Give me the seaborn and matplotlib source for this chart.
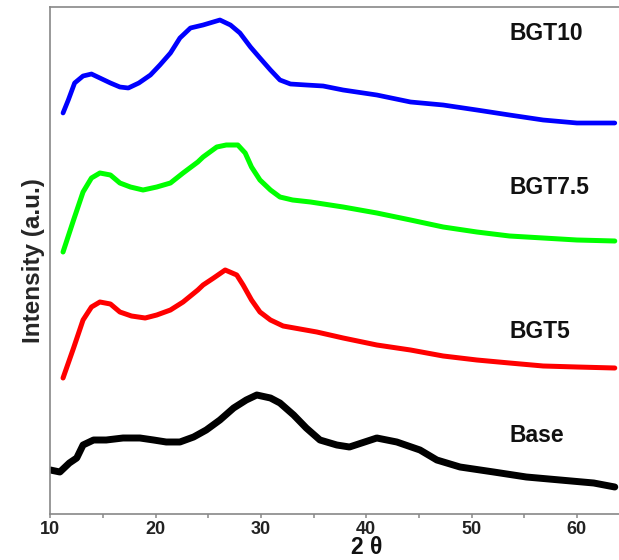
import matplotlib
matplotlib.use("Agg")
import matplotlib.pyplot as plt
import seaborn as sns
import pandas as pd
from matplotlib.ticker import MultipleLocator

sns.set_style("ticks")
plt.rcParams['font.family'] = ['Liberation Sans', 'DejaVu Sans']

# ---- data (2θ in degrees, intensity in arbitrary units incl. vertical offset) ----
bgt10_x = [11.2, 11.7, 12.3, 13.1, 13.9, 14.7, 15.7, 16.6, 17.4, 18.4, 19.5, 20.4, 21.4,
           22.3, 23.3, 24.5, 26.1, 27.1, 28.0, 29.0, 29.9, 30.9, 31.8, 32.8, 34.3, 35.9,
           37.8, 41.0, 44.2, 47.3, 50.5, 53.6, 56.8, 60.0, 63.6]
bgt10_y = [401, 414, 431, 438, 440, 436, 431, 427, 426, 431, 439, 449, 461,
           476, 486, 489, 494, 489, 481, 467, 456, 444, 434, 430, 429, 428,
           424, 419, 412, 409, 404, 399, 394, 391, 391]

bgt75_x = [11.2, 12.2, 13.1, 13.9, 14.7, 15.7, 16.6, 17.6, 18.8, 20.1, 21.4, 22.6, 24.0,
           24.5, 25.8, 26.7, 27.8, 28.5, 29.1, 29.9, 30.9, 31.8, 33.0, 34.7, 37.8, 41.0,
           44.2, 47.3, 50.5, 53.6, 56.8, 60.0, 63.6]
bgt75_y = [262, 294, 322, 336, 341, 339, 331, 327, 324, 327, 331, 341, 352,
           357, 367, 369, 369, 361, 347, 334, 324, 317, 314, 312, 307, 301,
           294, 287, 282, 278, 276, 274, 273]

bgt5_x = [11.2, 12.2, 13.1, 13.9, 14.7, 15.7, 16.6, 17.7, 19.0, 20.1, 21.4, 22.6, 24.0,
          24.5, 25.5, 26.6, 27.7, 28.3, 29.1, 29.9, 30.9, 32.1, 33.7, 35.3, 37.8, 41.0,
          44.2, 47.3, 50.5, 53.6, 56.8, 60.0, 63.6]
bgt5_y = [136, 166, 194, 207, 212, 210, 202, 198, 196, 199, 204, 212, 224,
          229, 236, 244, 239, 229, 214, 202, 194, 188, 185, 182, 176, 169,
          164, 158, 154, 151, 148, 147, 146]

base_x = [10.0, 10.9, 11.8, 12.5, 13.1, 14.1, 15.3, 16.9, 18.5, 19.8, 21.0, 22.3, 23.6,
          24.8, 26.1, 27.4, 28.6, 29.6, 30.9, 31.8, 33.1, 34.3, 35.6, 37.2, 38.4, 41.0,
          42.9, 45.1, 46.7, 48.9, 52.1, 55.2, 58.4, 61.6, 63.6]
base_y = [44, 42, 51, 56, 69, 74, 74, 76, 76, 74, 72, 72, 77,
          84, 94, 106, 114, 119, 116, 111, 99, 86, 74, 69, 67, 76,
          72, 64, 54, 47, 42, 37, 34, 31, 27]

series_names = ["BGT10", "BGT7.5", "BGT5", "Base"]
series_colors = ["#0000FF", "#00FF00", "#FF0000", "#000000"]
label_y = [481, 326, 182, 79]
x_ticks = [10, 20, 30, 40, 50, 60]

frames = []
for name, xs, ys in zip(series_names, [bgt10_x, bgt75_x, bgt5_x, base_x],
                        [bgt10_y, bgt75_y, bgt5_y, base_y]):
    frames.append(pd.DataFrame({"two_theta": xs, "intensity": ys, "sample": name}))
df = pd.concat(frames, ignore_index=True)

fig = plt.figure(figsize=(6.19, 5.6), dpi=100)
ax = fig.add_axes([50.4 / 619, 46 / 560, 1 - 50.4 / 619, 507 / 560])

widths = {"BGT10": 3.4, "BGT7.5": 3.6, "BGT5": 3.6, "Base": 5.0}
for name, col in zip(series_names, series_colors):
    sub = df[df["sample"] == name]
    sns.lineplot(data=sub, x="two_theta", y="intensity", color=col,
                 lw=widths[name], ax=ax, legend=False, sort=False)

for name, yy in zip(series_names, label_y):
    ax.text(53.6, yy, name, fontsize=16.5, fontweight="bold", va="center", ha="left",
            color="#111111")

ax.set_xlim(10, 64.0)
ax.set_ylim(0, 507)
ax.set_xticks(x_ticks)
ax.xaxis.set_minor_locator(MultipleLocator(5))
ax.set_yticks([])
ax.set_xlabel("")
ax.set_ylabel("Intensity (a.u.)", fontsize=17.5, fontweight="bold", labelpad=4)
ax.tick_params(axis="x", which="major", direction="out", length=3, width=1.1,
               color="#888888", labelsize=13, pad=2)
ax.tick_params(axis="x", which="minor", direction="out", length=3, width=1.1,
               color="#888888")
for lab in ax.get_xticklabels():
    lab.set_fontweight("bold")
    lab.set_color("#222222")
for s in ["left", "top", "bottom"]:
    ax.spines[s].set_color("#888888")
    ax.spines[s].set_linewidth(1.2)
ax.spines["right"].set_visible(False)

fig.text(367 / 619, 0.5 / 560, "2 θ", fontsize=16.5, fontweight="bold", ha="center",
         va="bottom", color="#111111")

fig.savefig("out.png", dpi=100)
